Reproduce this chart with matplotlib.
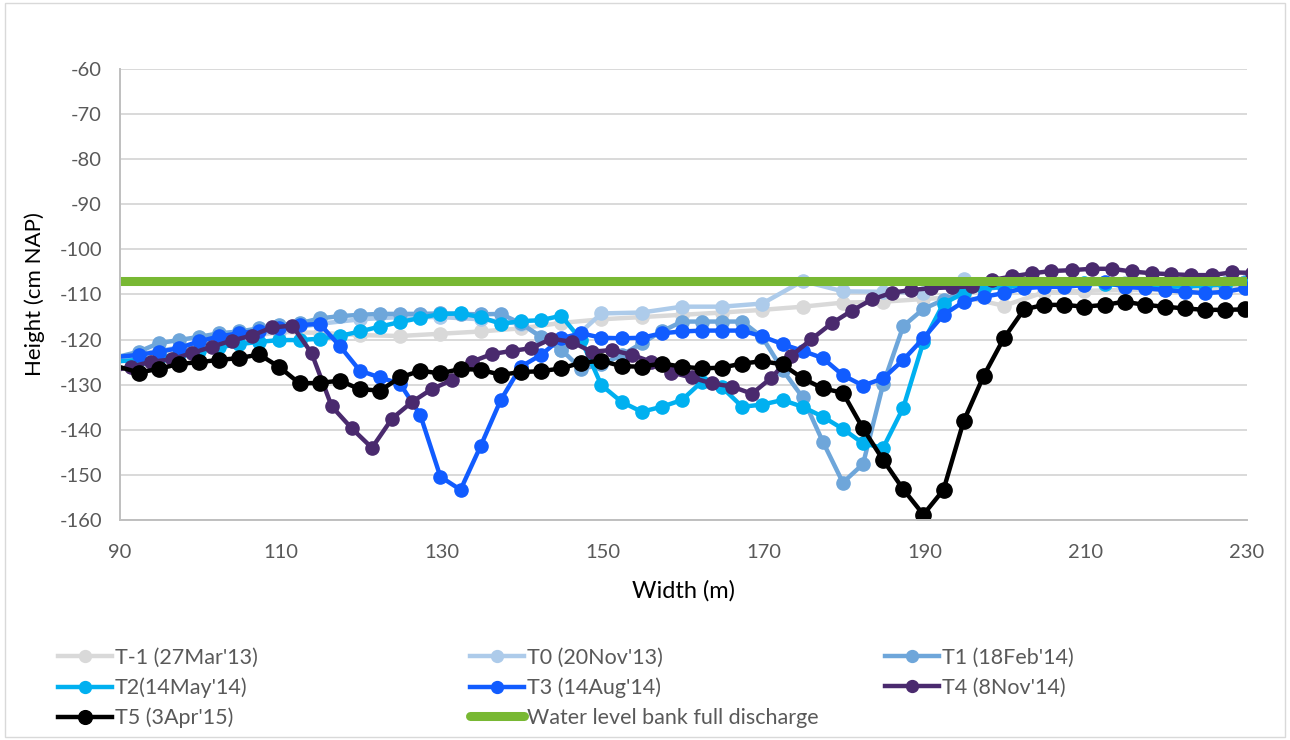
import matplotlib
matplotlib.use("Agg")
import matplotlib.pyplot as plt
from matplotlib.patches import Rectangle

plt.rcParams['font.family'] = ['Lato', 'DejaVu Sans']
plt.rcParams['axes.unicode_minus'] = False

# stations (m)
x_25 = [89.8, 92.3, 94.8, 97.3, 99.8, 102.3, 104.8, 107.3, 109.8, 112.3,
        114.8, 117.3, 119.8, 122.3, 124.8, 127.3, 129.8, 132.3, 134.8, 137.3,
        139.8, 142.3, 144.8, 147.3, 149.8, 152.3, 154.8, 157.3, 159.8, 162.3,
        164.8, 167.3, 169.8, 172.3, 174.8, 177.3, 179.8, 182.3, 184.8, 187.3,
        189.8, 192.3, 194.8, 197.3, 199.8, 202.3, 204.8, 207.3, 209.8, 212.3,
        214.8, 217.3, 219.8, 222.3, 224.8, 227.3, 229.8]
x_5 = [89.8, 94.8, 99.8, 104.8, 109.8, 114.8, 119.8, 124.8, 129.8, 134.8,
       139.8, 144.8, 149.8, 154.8, 159.8, 164.8, 169.8, 174.8, 179.8, 184.8,
       189.8, 194.8, 199.8, 204.8, 209.8, 214.8, 219.8, 224.8, 229.8]
x_t4 = [88.9, 91.4, 93.9, 96.4, 98.9, 101.4, 103.9, 106.4, 108.9, 111.4,
        113.8, 116.3, 118.8, 121.3, 123.8, 126.3, 128.7, 131.2, 133.7, 136.2,
        138.7, 141.1, 143.6, 146.1, 148.6, 151.1, 153.6, 156.0, 158.5, 161.0,
        163.5, 166.0, 168.5, 170.9, 173.4, 175.9, 178.4, 180.9, 183.4, 185.9,
        188.3, 190.8, 193.3, 195.8, 198.3, 200.8, 203.3, 205.7, 208.2, 210.7,
        213.2, 215.7, 218.2, 220.6, 223.1, 225.6, 228.1, 230.6]
x_water = [90, 230]

# heights (cm NAP)
t_min1 = [-124.5, -123.0, -121.5, -119.8, -118.3, -118.5, -119.0, -119.2, -118.7, -118.2,
          -117.5, -116.3, -115.5, -115.0, -114.5, -114.0, -113.4, -112.7, -111.8, -111.6,
          -111.0, -110.5, -112.5, -109.5, -109.2, -109.0, -109.0, -108.8, -108.5]
t0 = [-124.0, -122.5, -121.0, -119.5, -118.0, -116.5, -115.5, -115.0, -115.0, -115.5,
      -116.5, -122.3, -114.2, -114.0, -112.7, -112.7, -112.0, -107.0, -109.3, -109.4,
      -109.6, -106.5, -107.5, -107.8, -107.8, -107.5, -107.6, -107.7, -107.3]
t1 = [-123.8, -122.7, -120.8, -120.1, -119.4, -118.6, -118.2, -117.5, -116.8, -116.4,
      -115.3, -114.8, -114.5, -114.3, -114.3, -114.3, -114.2, -114.3, -114.4, -114.3,
      -116.4, -119.4, -122.2, -126.5, -125.5, -123.5, -120.8, -118.2, -116.0, -116.0,
      -116.0, -116.0, -119.5, -126.7, -132.8, -142.6, -151.7, -147.6, -129.9, -117.0,
      -113.2, -111.2, -109.5, -108.8, -108.3, -108.0, -107.8, -107.6, -107.6, -107.5,
      -107.6, -107.8, -107.8, -107.7, -107.6, -107.5, -107.3]
t2 = [-124.8, -124.5, -124.0, -123.3, -122.5, -121.7, -121.0, -120.5, -120.1, -120.1,
      -119.8, -119.2, -118.2, -117.1, -116.1, -115.2, -114.3, -114.2, -115.0, -116.5,
      -115.9, -115.7, -114.7, -120.1, -130.1, -133.8, -136.0, -134.9, -133.4, -129.3,
      -130.6, -134.9, -134.4, -133.4, -134.9, -137.1, -139.8, -143.0, -144.0, -135.1,
      -120.5, -112.0, -109.7, -108.6, -108.3, -108.0, -107.8, -107.6, -107.4, -107.7,
      -108.0, -108.2, -108.3, -108.2, -108.0, -107.8, -107.5]
t3 = [-123.8, -123.4, -122.7, -121.9, -120.4, -119.3, -118.6, -118.0, -117.5, -116.8,
      -116.5, -121.4, -126.9, -128.4, -129.8, -136.7, -150.4, -153.3, -143.6, -133.4,
      -126.0, -123.4, -119.7, -118.6, -119.6, -119.7, -119.6, -118.6, -118.2, -118.0,
      -118.0, -118.0, -119.3, -121.0, -122.5, -124.1, -127.9, -130.2, -128.6, -124.5,
      -119.7, -114.5, -111.6, -110.5, -109.7, -108.6, -108.3, -108.3, -107.9, -107.2,
      -108.3, -108.6, -109.0, -109.4, -109.7, -109.4, -108.6]
t4 = [-127.0, -126.0, -124.9, -124.4, -123.0, -121.6, -120.2, -119.1, -117.3, -116.9,
      -123.0, -134.8, -139.7, -144.0, -137.5, -133.8, -131.0, -129.0, -124.9, -123.2,
      -122.5, -121.9, -119.8, -120.5, -122.7, -122.3, -123.4, -124.9, -127.3, -128.4,
      -129.7, -130.4, -132.0, -128.5, -123.6, -119.9, -116.4, -113.6, -111.1, -109.6,
      -109.0, -108.6, -108.4, -108.2, -106.8, -106.0, -105.3, -104.8, -104.6, -104.3,
      -104.3, -104.9, -105.3, -105.5, -105.7, -105.7, -105.1, -105.2]
t5 = [-126.0, -127.3, -126.5, -125.4, -125.0, -124.5, -124.1, -123.3, -126.1, -129.7,
      -129.6, -129.1, -131.0, -131.3, -128.4, -126.9, -127.5, -126.5, -126.7, -127.8,
      -127.2, -127.0, -126.4, -125.1, -124.7, -125.9, -126.0, -125.3, -126.0, -126.4,
      -126.2, -125.3, -124.8, -125.5, -128.6, -130.8, -131.8, -139.7, -146.7, -153.2,
      -158.8, -153.3, -138.1, -128.0, -119.7, -113.3, -112.3, -112.3, -112.7, -112.3,
      -111.6, -112.3, -112.7, -113.1, -113.4, -113.4, -113.3]
water = [-107, -107]

fig = plt.figure(figsize=(12.9, 7.4), dpi=100)
ax = fig.add_axes([120 / 1290, 1 - 520 / 740, 1127 / 1290, 451 / 740])

ms = 9.5
lw = 3.2
series = [
    (x_5, t_min1, '#D9D9D9', "T-1 (27Mar'13)", ms),
    (x_5, t0, '#ADCBEA', "T0 (20Nov'13)", ms),
    (x_25, t1, '#6EA6DA', "T1 (18Feb'14)", ms),
    (x_25, t2, '#00B0F0', "T2(14May'14)", ms),
    (x_25, t3, '#115CFF', "T3 (14Aug'14)", ms),
    (x_t4, t4, '#4A2A6E', "T4 (8Nov'14)", ms),
    (x_25, t5, '#000000', "T5 (3Apr'15)", 11),
]
handles = {}
for xs, ys, c, lab, m in series:
    h, = ax.plot(xs, ys, color=c, lw=lw, marker='o', markersize=m,
                 markevery=slice(1, None), label=lab, solid_joinstyle='round')
    handles[lab] = h
hw, = ax.plot(x_water, water, color='#78B833', lw=6.5, solid_capstyle='round',
              label='Water level bank full discharge')
handles['water'] = hw

ax.set_xlim(90, 230)
ax.set_ylim(-160, -60)
ax.set_xticks(range(90, 231, 20))
ax.set_yticks(range(-160, -59, 10))
ax.yaxis.grid(True, color='#D9D9D9', lw=1.4)
ax.set_axisbelow(True)
for s in ['top', 'right']:
    ax.spines[s].set_visible(False)
for s in ['left', 'bottom']:
    ax.spines[s].set_color('#BFBFBF')
    ax.spines[s].set_linewidth(1.4)
ax.tick_params(length=0, labelsize=14.5, labelcolor='#595959')
ax.tick_params(axis='x', pad=17)
ax.tick_params(axis='y', pad=13)
ax.set_xlabel('Width (m)', fontsize=17, labelpad=14)
ax.set_ylabel('Height (cm NAP)', fontsize=16, labelpad=10)

# legend in three columns
cols = [
    (["T-1 (27Mar'13)", "T2(14May'14)", "T5 (3Apr'15)"], 58),
    (["T0 (20Nov'13)", "T3 (14Aug'14)", 'water'], 470),
    (["T1 (18Feb'14)", "T4 (8Nov'14)"], 885),
]
for labs, xpx in cols:
    hs = [handles[l] for l in labs]
    fig.legend(hs, [h.get_label() for h in hs], loc='upper left',
               bbox_to_anchor=(xpx / 1290, 1 - 648 / 740), frameon=False,
               fontsize=15.5, labelcolor='#595959', handlelength=2.5,
               handletextpad=0.15, labelspacing=0.44, borderpad=0,
               borderaxespad=0, markerscale=0.9)

fig.patches.append(Rectangle((0.004, 0.004), 0.992, 0.992, transform=fig.transFigure,
                             fill=False, ec='#D9D9D9', lw=1))

fig.savefig('out.png', dpi=100)
